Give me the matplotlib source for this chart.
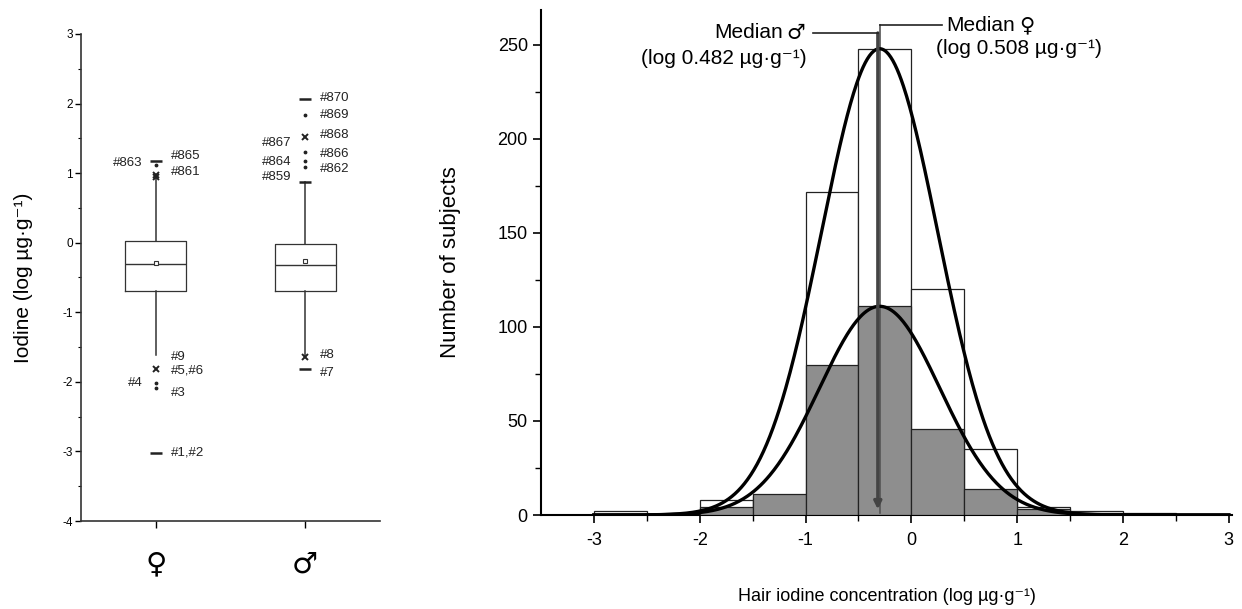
import numpy as np
import matplotlib
matplotlib.use("Agg")
import matplotlib.pyplot as plt

plt.rcParams['font.family'] = ['Liberation Sans', 'DejaVu Sans']
plt.rcParams['axes.unicode_minus'] = False

# ---------------- data: box plot ----------------
groups = ["♀", "♂"]
q1 = [-0.70, -0.69]
median = [-0.30, -0.32]
q3 = [0.03, -0.02]
whisker_low = [-1.62, -1.62]
whisker_high = [0.93, 0.87]
means = [-0.29, -0.27]

# outlier points (group index, value)
dash_pts_g = [1, 1, 2, 2, 2]
dash_pts_v = [1.18, -3.02, 2.07, 0.87, -1.82]
cross_pts_g = [1, 1, 1, 2, 2]
cross_pts_v = [0.98, 0.95, -1.82, 1.52, -1.64]
dot_pts_g = [1, 1, 1, 2, 2, 2, 2]
dot_pts_v = [1.12, -2.02, -2.09, 1.84, 1.30, 1.17, 1.09]

# outlier labels: text, group, value, side
lab_text = ["#865", "#861", "#863", "#9", "#5,#6", "#4", "#3", "#1,#2",
            "#870", "#869", "#868", "#866", "#862", "#867", "#864", "#859", "#8", "#7"]
lab_group = [1, 1, 1, 1, 1, 1, 1, 1, 2, 2, 2, 2, 2, 2, 2, 2, 2, 2]
lab_value = [1.24, 1.02, 1.15, -1.64, -1.84, -2.01, -2.16, -3.02,
             2.08, 1.84, 1.55, 1.28, 1.06, 1.44, 1.16, 0.95, -1.62, -1.87]
lab_side = ["r", "r", "l", "r", "r", "l", "r", "r",
            "r", "r", "r", "r", "r", "l", "l", "l", "r", "r"]

# ---------------- data: histogram ----------------
bin_edges = [-3.0, -2.5, -2.0, -1.5, -1.0, -0.5, 0.0, 0.5, 1.0, 1.5, 2.0, 2.5]
counts_open = [2, 0, 8, 10, 172, 248, 120, 35, 4, 2, 1]
counts_gray = [0, 0, 4, 11, 80, 111, 46, 14, 3, 1, 0]

# normal fit parameters (amplitude, mean, sigma)
fit_open = (248, -0.30, 0.55)
fit_gray = (111, -0.30, 0.57)

median_male = -0.317    # log10(0.482)
median_female = -0.294  # log10(0.508)

SYM = 'DejaVu Sans'

# ---------------- figure ----------------
W, H = 1242, 609
fig = plt.figure(figsize=(W / 100, H / 100), dpi=100)

# ----- left: box plot -----
ax1 = fig.add_axes([81 / W, 1 - 521 / H, (380 - 81) / W, (521 - 34) / H])
stats = []
for i in range(2):
    stats.append(dict(med=median[i], q1=q1[i], q3=q3[i], whislo=whisker_low[i],
                      whishi=whisker_high[i], mean=means[i], fliers=[]))
lc = '#333333'
ax1.bxp(stats, positions=[1, 2], widths=0.41, showmeans=True, showcaps=False,
        boxprops=dict(color=lc, lw=0.9),
        whiskerprops=dict(color=lc, lw=1.1),
        medianprops=dict(color=lc, lw=1.0),
        meanprops=dict(marker='s', markersize=3, markerfacecolor='white',
                       markeredgecolor=lc, markeredgewidth=0.8))
ax1.plot(dash_pts_g, dash_pts_v, ls='none', marker='_', ms=8, mew=1.8, color='#222222')
ax1.plot(cross_pts_g, cross_pts_v, ls='none', marker='x', ms=4.5, mew=1.4, color='#222222')
ax1.plot(dot_pts_g, dot_pts_v, ls='none', marker='.', ms=3.5, color='#222222')
for t, g, v, s in zip(lab_text, lab_group, lab_value, lab_side):
    if s == "r":
        ax1.text(g + 0.10, v, t, ha='left', va='center', fontsize=9.5, color='#222222')
    else:
        ax1.text(g - 0.09, v, t, ha='right', va='center', fontsize=9.5, color='#222222')

ax1.set_xlim(0.5, 2.5)
ax1.set_ylim(-4, 3)
ax1.set_xticks([1, 2])
ax1.set_xticklabels(groups, fontsize=21)
for lbl in ax1.get_xticklabels():
    lbl.set_fontfamily(SYM)
ax1.set_yticks(np.arange(-4, 4, 1))
ax1.set_yticks(np.arange(-4, 3.01, 0.5), minor=True)
ax1.tick_params(axis='y', which='major', labelsize=8.5, length=4, width=1, direction='out', pad=2)
ax1.tick_params(axis='y', which='minor', length=2.5, width=0.8, direction='out')
ax1.tick_params(axis='x', which='major', length=5, width=1, direction='out', pad=16)
for sp in ['top', 'right']:
    ax1.spines[sp].set_visible(False)
for sp in ['left', 'bottom']:
    ax1.spines[sp].set_linewidth(1.2)
    ax1.spines[sp].set_color('#333333')
ax1.set_ylabel("Iodine (log µg·g⁻¹)", fontsize=15)
ax1.yaxis.set_label_coords(-0.16, 0.5)

# ----- right: histogram -----
ax2 = fig.add_axes([541 / W, 1 - 515 / H, (1232 - 541) / W, (515 - 10) / H])
edges = np.array(bin_edges)
ax2.bar(edges[:-1], counts_open, width=0.5, align='edge', facecolor='white',
        edgecolor='#222222', lw=0.9, zorder=2)
ax2.bar(edges[:-1], counts_gray, width=0.5, align='edge', facecolor='#8e8e8e',
        edgecolor='#222222', lw=0.9, zorder=3)

xs = np.linspace(-3.0, 3.0, 600)
for a, m, s in (fit_open, fit_gray):
    ax2.plot(xs, a * np.exp(-0.5 * ((xs - m) / s) ** 2), color='black', lw=2.4, zorder=5)

# median markers
ax2.plot([median_female, median_female], [260.6, 1], color='#555555', lw=1.2, zorder=4)
ax2.annotate('', xy=(median_male, 3), xytext=(median_male, 256.4),
             arrowprops=dict(arrowstyle='-|>', color='#444444', lw=2.4,
                             mutation_scale=11, shrinkA=0, shrinkB=0), zorder=6)
ax2.plot([-0.934, median_male], [256.4, 256.4], color='#222222', lw=1.2, zorder=6)
ax2.plot([median_female, 0.29], [260.6, 260.6], color='#222222', lw=1.2, zorder=6)

FS = 15
sym_m = ax2.text(-1.0, 256.4, "♂", ha='right', va='center', fontsize=FS, family=SYM)
ax2.text(-0.99, 243.0, "(log 0.482 µg·g⁻¹)", ha='right', va='center', fontsize=FS)
med_f = ax2.text(0.33, 260.6, "Median", ha='left', va='center', fontsize=FS)
ax2.text(0.236, 248.0, "(log 0.508 µg·g⁻¹)", ha='left', va='center', fontsize=FS)
fig.canvas.draw()
r = fig.canvas.get_renderer()
wm = sym_m.get_window_extent(r).width
wf = med_f.get_window_extent(r).width
ax2.annotate("Median", xy=(-1.0, 256.4), xytext=(-wm - 4, 0), textcoords='offset pixels',
             ha='right', va='center', fontsize=FS)
ax2.annotate("♀", xy=(0.33, 260.6), xytext=(wf + 4, 0), textcoords='offset pixels',
             ha='left', va='center', fontsize=FS, family=SYM)

ax2.set_xlim(-3.5, 3.03)
ax2.set_ylim(0, 268.6)
ax2.set_xticks(np.arange(-3, 4, 1))
ax2.set_xticks(np.arange(-3, 3.01, 0.5), minor=True)
ax2.set_yticks(np.arange(0, 251, 50))
ax2.set_yticks(np.arange(0, 251, 25), minor=True)
ax2.tick_params(axis='both', which='major', labelsize=13, length=6, width=1.2, direction='out')
ax2.tick_params(axis='both', which='minor', length=4, width=1.0, direction='out')
ax2.tick_params(axis='x', which='major', pad=6)
for sp in ['top', 'right']:
    ax2.spines[sp].set_visible(False)
for sp in ['left', 'bottom']:
    ax2.spines[sp].set_linewidth(1.5)
ax2.set_ylabel("Number of subjects", fontsize=16, labelpad=26)
ax2.set_xlabel("Hair iodine concentration (log µg·g⁻¹)", fontsize=13, labelpad=28)

fig.savefig("out.png", dpi=100, facecolor='white')
